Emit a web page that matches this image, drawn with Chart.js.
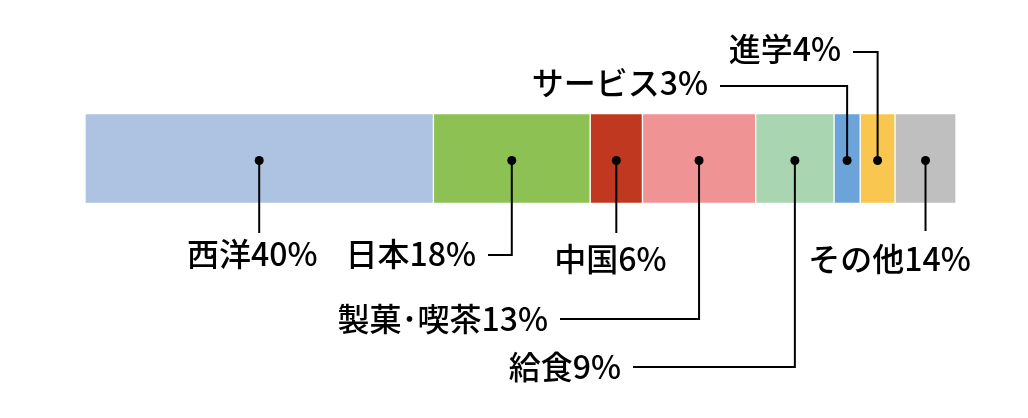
<!DOCTYPE html>
<html>
<head>
<meta charset="utf-8">
<script src="https://cdn.jsdelivr.net/npm/chart.js@4"></script>
<style>
  html, body { margin: 0; padding: 0; background: #fff; }
  #wrap { width: 1028px; height: 418px; }
</style>
</head>
<body>
<div id="wrap"><canvas id="chart" width="1028" height="418"></canvas></div>
<script>
"use strict";

const CATEGORIES = ["西洋", "日本", "中国", "製菓･喫茶", "給食", "サービス", "進学", "その他"];
const SHARES = [40, 18, 6, 13, 9, 3, 4, 7];
const LABEL_PCT = ["40%", "18%", "6%", "13%", "9%", "3%", "4%", "14%"];
const COLORS = ["#aec2e1", "#8dc153", "#c0381f", "#f09394", "#a9d5b0", "#6ca3d8", "#f9c74f", "#bfbfbf"];

// callout layout: straight drop to a centred label, or an elbow to a right-aligned label
const CALLOUTS = [
  { kind: "drop", endY: 233, dx: -7, textY: 254 },
  { kind: "elbow", elbowY: 255, toX: 488, textY: 254 },
  { kind: "drop", endY: 233, dx: -6, textY: 259 },
  { kind: "elbow", elbowY: 319, toX: 560, textY: 319 },
  { kind: "elbow", elbowY: 367, toX: 633, textY: 367 },
  { kind: "elbow", elbowY: 86, toX: 720, textY: 83 },
  { kind: "elbow", elbowY: 52, toX: 853, textY: 49 },
  { kind: "drop", endY: 231, dx: -36, textY: 259 },
];

const calloutPlugin = {
  id: "callouts",
  afterDatasetsDraw(chart) {
    const ctx = chart.ctx;
    ctx.save();
    ctx.strokeStyle = "#000";
    ctx.fillStyle = "#000";
    ctx.lineWidth = 2;
    ctx.font = "500 32px 'Noto Sans CJK JP', 'Noto Sans', sans-serif";
    ctx.textBaseline = "middle";
    chart.data.datasets.forEach((ds, i) => {
      const bar = chart.getDatasetMeta(i).data[0];
      const cx = (bar.base + bar.x) / 2;
      const cy = bar.y + 2;
      const c = CALLOUTS[i];
      const text = CATEGORIES[i] + LABEL_PCT[i];
      ctx.beginPath();
      if (c.kind === "drop") {
        ctx.moveTo(cx, cy);
        ctx.lineTo(cx, c.endY);
        ctx.stroke();
        ctx.textAlign = "center";
        ctx.fillText(text, cx + c.dx, c.textY);
      } else {
        ctx.moveTo(cx, cy);
        ctx.lineTo(cx, c.elbowY);
        ctx.lineTo(c.toX, c.elbowY);
        ctx.stroke();
        ctx.textAlign = "right";
        ctx.fillText(text, c.toX - 12, c.textY);
      }
      ctx.beginPath();
      ctx.arc(cx, cy, 4.5, 0, Math.PI * 2);
      ctx.fill();
    });
    ctx.restore();
  },
};

function renderChart() {
  const canvas = document.getElementById("chart");
  new Chart(canvas, {
    type: "bar",
    data: {
      labels: [""],
      datasets: CATEGORIES.map((name, i) => ({
        label: name,
        data: [SHARES[i]],
        backgroundColor: COLORS[i],
        borderColor: "#ffffff",
        borderWidth: 1,
        borderSkipped: false,
        barThickness: 90,
      })),
    },
    options: {
      indexAxis: "y",
      responsive: false,
      animation: false,
      layout: { padding: { left: 85, right: 72, top: 0, bottom: 101 } },
      scales: {
        x: { stacked: true, min: 0, max: 100, display: false },
        y: { stacked: true, display: false },
      },
      plugins: {
        legend: { display: false },
        tooltip: { enabled: false },
      },
    },
    plugins: [calloutPlugin],
  });
}

document.addEventListener("DOMContentLoaded", renderChart);
</script>
</body>
</html>
